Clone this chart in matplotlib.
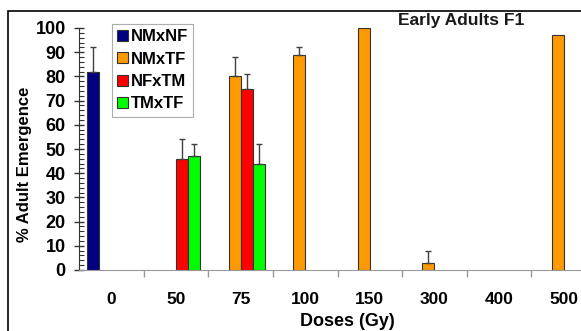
import numpy as np
import matplotlib
matplotlib.use("Agg")
import matplotlib.pyplot as plt
from matplotlib.patches import Rectangle, Patch
from matplotlib.ticker import MultipleLocator, FixedLocator

plt.rcParams['font.family'] = ['Liberation Sans', 'DejaVu Sans']
plt.rcParams['font.weight'] = 'bold'

doses = ['0', '50', '75', '100', '150', '300', '400', '500']
series = ['NMxNF', 'NMxTF', 'NFxTM', 'TMxTF']
colors = ['#000080', '#FF9900', '#FF0000', '#00FF00']
nan = np.nan
nmxnf = [82, nan, nan, nan, nan, nan, nan, nan]
nmxnf_err = [10, nan, nan, nan, nan, nan, nan, nan]
nmxtf = [nan, nan, 80, 89, 100, 3, nan, 97]
nmxtf_err = [nan, nan, 8, 3, 0, 5, nan, 0]
nfxtm = [nan, 46, 75, nan, nan, nan, nan, nan]
nfxtm_err = [nan, 8, 6, nan, nan, nan, nan, nan]
tmxtf = [nan, 47, 44, nan, nan, nan, nan, nan]
tmxtf_err = [nan, 5, 8, nan, nan, nan, nan, nan]

values = [nmxnf, nmxtf, nfxtm, tmxtf]
errors = [nmxnf_err, nmxtf_err, nfxtm_err, tmxtf_err]

W, H = 581, 331
fig = plt.figure(figsize=(W / 100, H / 100), dpi=100)
ax = fig.add_axes([79 / W, 1 - 270 / H, 517 / W, 242 / H])

x = np.arange(len(doses))
bw = 0.186
for i, (vals, errs, c, name) in enumerate(zip(values, errors, colors, series)):
    v = np.array(vals, dtype=float)
    e = np.array(errs, dtype=float)
    m = ~np.isnan(v)
    xpos = x[m] + (i - 1.5) * bw
    ax.bar(xpos, v[m], width=bw, color=c, edgecolor='#333333', linewidth=0.8, zorder=2)
    em = m & ~np.isnan(e) & (np.nan_to_num(e) > 0)
    if em.any():
        xe = x[em] + (i - 1.5) * bw
        ax.errorbar(xe, v[em], yerr=[np.zeros(em.sum()), e[em]], fmt='none',
                    ecolor='#404040', elinewidth=1, capsize=2.2, capthick=1, zorder=3)

ax.set_xlim(-0.5, len(doses) - 0.5)
ax.set_ylim(0, 100)

for s in ['top', 'right']:
    ax.spines[s].set_visible(False)
ax.spines['left'].set_color('#333333')
ax.spines['bottom'].set_color('#999999')

ax.yaxis.set_major_locator(MultipleLocator(10))
ax.yaxis.set_minor_locator(MultipleLocator(2))
ax.tick_params(axis='y', which='major', direction='inout', length=7.2, width=1,
               color='#333333', labelsize=13, pad=6)
ax.tick_params(axis='y', which='minor', direction='in', length=3.6, width=0.8, color='#333333')

ax.set_xticks(x)
ax.set_xticklabels(doses)
ax.xaxis.set_minor_locator(FixedLocator(np.arange(0.5, len(doses) - 0.5, 1)))
ax.tick_params(axis='x', which='major', length=0, labelsize=12.5, pad=16)
ax.tick_params(axis='x', which='minor', direction='out', length=5, width=1, color='#999999')
for lbl in ax.get_xticklabels() + ax.get_yticklabels():
    lbl.set_fontweight('bold')

fig.text(24 / W, 1 - 164 / H, '% Adult Emergence', rotation=90, ha='center', va='center',
         fontsize=12, fontweight='bold')
fig.text(347 / W, 1 - 326 / H, 'Doses (Gy)', ha='center', va='baseline',
         fontsize=13, fontweight='bold')
fig.text(461 / W, 1 - 25 / H, 'Early Adults F1', ha='center', va='baseline',
         fontsize=12.5, fontweight='bold', color='#1a1a1a')

handles = [Patch(facecolor=c, edgecolor='#333333', linewidth=0.8) for c in colors]
leg = ax.legend(handles, series, loc='upper left',
                bbox_to_anchor=((112 - 79) / 517, (270 - 24) / 242),
                prop={'weight': 'bold', 'size': 12}, frameon=True, fancybox=False,
                edgecolor='#999999', handlelength=0.65, handleheight=0.65,
                handletextpad=0.2, labelspacing=0.45, borderpad=0.3, borderaxespad=0)
leg.get_frame().set_linewidth(0.8)

fig.add_artist(Rectangle((8 / W, -0.5), 2, 1.5 - 11 / H, transform=fig.transFigure,
                         fill=False, edgecolor='black', linewidth=1.2))

fig.savefig('out.png', dpi=100)
